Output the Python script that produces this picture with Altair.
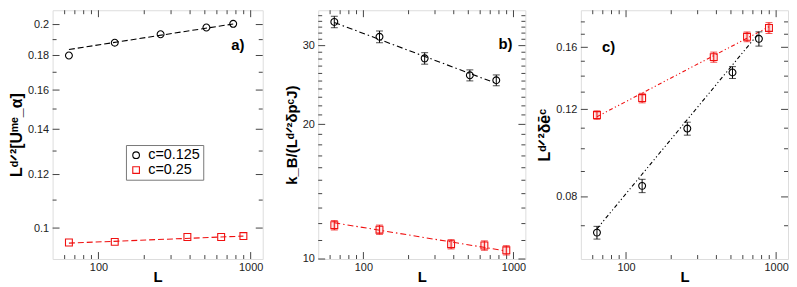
import altair as alt
import pandas as pd

# ---------------- data ----------------
L_c0125 = [64, 128, 256, 512, 768]
L_c025 = [64, 128, 384, 640, 896]
series_names = ["c=0.125", "c=0.25"]

# panel a)  L^{d/2}[U^me_alpha]
a_c0125 = [0.180, 0.188, 0.1935, 0.198, 0.2005]
a_c025 = [0.0952, 0.0954, 0.0970, 0.0970, 0.0973]
a_fit_c0125 = [0.1837, 0.2004]
a_fit_c025 = [0.0950, 0.0973]

# panel b)  k_B/(L^{d/2} dp^c J)
b_c0125 = [33.9, 31.4, 28.1, 25.75, 25.1]
b_c0125_err = [1.0, 0.95, 0.83, 0.73, 0.70]
b_c025 = [11.9, 11.63, 10.79, 10.72, 10.46]
b_c025_err = [0.29, 0.28, 0.26, 0.26, 0.25]
b_fit_c0125 = [33.8, 24.7]
b_fit_c025 = [12.05, 10.42]

# panel c)  L^{d/2} d e^c
c_c0125 = [0.0678, 0.0842, 0.1098, 0.1424, 0.1664]
c_c0125_err = [0.0020, 0.0026, 0.0033, 0.0039, 0.0055]
c_c025 = [0.1169, 0.1265, 0.1529, 0.1680, 0.1750]
c_c025_err = [0.0023, 0.0028, 0.0036, 0.0038, 0.0044]
c_fit_c0125 = [0.069, 0.171]
c_fit_c025 = [0.1160, 0.1760]

fit_L_c0125 = [64, 768]
fit_L_c025 = [64, 896]

# axes / ticks
x_domain = [50, 1200]
x_labels = [100, 1000]
x_major = [100, 1000]
x_minor = [60, 70, 80, 90, 200, 300, 400, 500, 600, 700, 800, 900]

a_domain = [0.09, 0.21]
a_labels = [0.10, 0.12, 0.14, 0.16, 0.18, 0.20]
a_minor = [0.11, 0.13, 0.15, 0.17, 0.19]

b_domain = [10, 36]
b_labels = [10, 20, 30]
b_minor = [11, 12, 13, 14, 15, 16, 17, 18, 19, 21, 22, 23, 24, 25, 26, 27, 28, 29,
           31, 32, 33, 34, 35]

c_domain = [0.06, 0.19]
c_labels = [0.08, 0.12, 0.16]
c_minor = [0.07, 0.09, 0.10, 0.11, 0.13, 0.14, 0.15, 0.17, 0.18]

titles = {
    "a": "Lᵈᐟ²[Uᵐᵉ_α]",
    "b": "k_B/(Lᵈᐟ²δpᶜJ)",
    "c": "Lᵈᐟ²δēᶜ",
}

# ---------------- style ----------------
BLACK = "#000000"
RED = "#f01010"
TICK = "#444444"
FONT = "Liberation Sans"
H = 251

def panel(W, ydom, ylabels, yminor, ymajor, yfmt, ytitle, tsize, black, red,
          black_err, red_err, fit_b, fit_r, label, lab_x, lab_y, legend=False,
          dash="6,3"):
    xs = alt.Scale(type="log", domain=x_domain, nice=False)
    ys = alt.Scale(type="log", domain=ydom, nice=False)
    xax = alt.Axis(values=x_labels, format="d", title="L", ticks=False, domain=False,
                   grid=False, labelPadding=3, titlePadding=-3, labelFontSize=11,
                   titleFontSize=15, titleFontWeight="bold", labelColor="#222",
                   labelFont=FONT, titleFont=FONT)
    yax = alt.Axis(values=ylabels, format=yfmt, title=ytitle, ticks=False, domain=False,
                   grid=False, labelPadding=4, titlePadding=3, labelFontSize=11,
                   titleFontSize=tsize, titleFontWeight="bold", labelColor="#222",
                   labelFont=FONT, titleFont=FONT)
    X = alt.X("L:Q", scale=xs, axis=xax)
    Y = alt.Y("v:Q", scale=ys, axis=yax)

    layers = []
    # inward ticks on all four sides
    for vals, ln in [(x_major, 7), (x_minor, 4)]:
        d = pd.DataFrame({"L": vals})
        base = alt.Chart(d).mark_rule(color=TICK, strokeWidth=1)
        layers.append(base.encode(x=X, y=alt.value(H), y2=alt.value(H - ln)))
        layers.append(base.encode(x=X, y=alt.value(0), y2=alt.value(ln)))
    for vals, ln in [(ymajor, 7), (yminor, 4)]:
        d = pd.DataFrame({"v": vals})
        base = alt.Chart(d).mark_rule(color=TICK, strokeWidth=1)
        layers.append(base.encode(y=Y, x=alt.value(0), x2=alt.value(ln)))
        layers.append(base.encode(y=Y, x=alt.value(W), x2=alt.value(W - ln)))

    # fit lines
    fb = pd.DataFrame({"L": fit_L_c0125, "v": fit_b})
    fr = pd.DataFrame({"L": fit_L_c025, "v": fit_r})
    dsh = [float(s) for s in dash.split(",")]
    layers.append(alt.Chart(fb).mark_line(color=BLACK, strokeWidth=1.1,
                                          strokeDash=dsh).encode(x=X, y=Y))
    layers.append(alt.Chart(fr).mark_line(color=RED, strokeWidth=1.1,
                                          strokeDash=dsh).encode(x=X, y=Y))

    # error bars
    for Ls, vals, errs, col in [(L_c0125, black, black_err, BLACK), (L_c025, red, red_err, RED)]:
        if errs is None:
            continue
        d = pd.DataFrame({"L": Ls, "v": vals, "e": errs})
        d["lo"] = d["v"] - d["e"]
        d["hi"] = d["v"] + d["e"]
        if col == RED:
            layers.append(alt.Chart(d).mark_rule(color=RED, strokeWidth=4, opacity=0.18).encode(
                x=X, y=alt.Y("lo:Q", scale=ys, axis=yax), y2="hi:Q"))
        layers.append(alt.Chart(d).mark_rule(color=col, strokeWidth=1).encode(
            x=X, y=alt.Y("lo:Q", scale=ys, axis=yax), y2="hi:Q"))
        for f in ["lo", "hi"]:
            layers.append(alt.Chart(d).mark_tick(color=col, orient="horizontal", size=7,
                                                 thickness=1).encode(
                x=X, y=alt.Y(f + ":Q", scale=ys, axis=yax)))

    # points
    pts = pd.DataFrame({
        "L": L_c0125 + L_c025,
        "v": black + red,
        "s": [series_names[0]] * len(black) + [series_names[1]] * len(red),
    })
    leg = alt.Legend(title=None, orient="none", legendX=74, legendY=136,
                     strokeColor="#777", fillColor="white", padding=3,
                     labelFontSize=14.5, labelFont=FONT, rowPadding=0,
                     symbolSize=45, symbolStrokeWidth=1.1, labelOffset=5,
                     cornerRadius=0) if legend else None
    col_enc = alt.Color("s:N", scale=alt.Scale(domain=series_names, range=[BLACK, RED]),
                        legend=leg)
    shp_enc = alt.Shape("s:N", scale=alt.Scale(domain=series_names, range=["circle", "square"]),
                        legend=leg)
    layers.append(alt.Chart(pts).mark_point(filled=False, size=48, strokeWidth=1.1,
                                            opacity=1).encode(
        x=X, y=Y, color=col_enc, shape=shp_enc))

    # panel label
    layers.append(alt.Chart(pd.DataFrame({"t": [label]})).mark_text(
        font=FONT, fontSize=15, fontWeight="bold", color=BLACK, align="center",
        baseline="middle").encode(x=alt.value(lab_x), y=alt.value(lab_y), text="t:N"))

    return alt.layer(*layers).properties(width=W, height=H)


pa = panel(212, a_domain, a_labels, a_minor, a_labels, ".2~f", titles["a"], 16,
           a_c0125, a_c025, None, None, a_fit_c0125, a_fit_c025, "a)", 187, 35,
           legend=True, dash="6,3")
pb = panel(209, b_domain, b_labels, b_minor, b_labels, "d", titles["b"], 15,
           b_c0125, b_c025, b_c0125_err, b_c025_err, b_fit_c0125, b_fit_c025,
           "b)", 189, 34, dash="6,3,1.5,3")
pc = panel(209, c_domain, c_labels, c_minor, c_labels, ".2f", titles["c"], 16,
           c_c0125, c_c025, c_c0125_err, c_c025_err, c_fit_c0125, c_fit_c025,
           "c)", 28, 37, dash="4,2.5,1.2,2.5,1.2,2.5")

chart = alt.hconcat(pa, pb, pc, spacing=56, bounds="flush").resolve_scale(
    color="independent", shape="independent", x="independent", y="independent"
).configure_view(stroke="#808080", strokeWidth=1.5).configure(
    padding={"left": 0, "top": 0, "right": 0, "bottom": 0}, background="white")

chart.save("out.html", embed_options={"renderer": "svg", "actions": False})
